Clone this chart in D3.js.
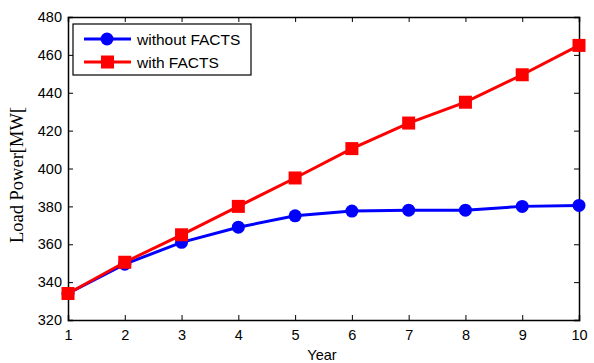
<!DOCTYPE html>
<html lang="en">
<head>
<meta charset="utf-8">
<title>Load Power</title>
<script src="https://cdnjs.cloudflare.com/ajax/libs/d3/7.8.5/d3.min.js"></script>
<style>
  body { margin: 0; background: #fff; }
  .tick text { font: 14.5px "Liberation Sans", Arial, sans-serif; fill: #000; }
</style>
</head>
<body>
<script>
var years = [1, 2, 3, 4, 5, 6, 7, 8, 9, 10];
var withoutFacts = [334, 349.5, 361, 369, 375, 377.5, 378, 378, 380, 380.5];
var withFacts = [334, 350.5, 365, 380, 395, 410.5, 424, 435, 449.5, 465];
var yTicks = [320, 340, 360, 380, 400, 420, 440, 460, 480];
var seriesNames = ["without FACTS", "with FACTS"];

var w = 594, h = 363;
var padL = 68, padR = 579, padT = 17, padB = 320;

var svg = d3.select("body").append("svg")
    .attr("width", w)
    .attr("height", h);

var x = d3.scaleLinear().domain([1, 10]).range([padL, padR]);
var y = d3.scaleLinear().domain([320, 480]).range([padB, padT]);

// axes, ticks pointing inward, mirrored on top/right
svg.append("g")
    .attr("transform", "translate(0," + padB + ")")
    .call(d3.axisBottom(x).tickValues(years).tickSize(-5).tickPadding(10).tickFormat(d3.format("d")));
svg.append("g")
    .attr("transform", "translate(0," + padT + ")")
    .call(d3.axisTop(x).tickValues(years).tickSize(-5).tickFormat(""));
svg.append("g")
    .attr("transform", "translate(" + padL + ",0)")
    .call(d3.axisLeft(y).tickValues(yTicks).tickSize(-5).tickPadding(6));
svg.append("g")
    .attr("transform", "translate(" + padR + ",0)")
    .call(d3.axisRight(y).tickValues(yTicks).tickSize(-5).tickFormat(""));

svg.selectAll(".domain").attr("stroke", "#000").attr("stroke-width", 1.5);
svg.selectAll(".tick line").attr("stroke", "#000");

var line = d3.line()
    .x(function(d, i){ return x(years[i]); })
    .y(function(d){ return y(d); });

// without FACTS (blue, circles)
svg.append("path")
    .datum(withoutFacts)
    .attr("d", line)
    .attr("fill", "none")
    .attr("stroke", "#0000ff")
    .attr("stroke-width", 3);
svg.selectAll(".circ")
    .data(withoutFacts)
    .enter().append("circle")
    .attr("class", "circ")
    .attr("cx", function(d, i){ return x(years[i]); })
    .attr("cy", function(d){ return y(d); })
    .attr("r", 6.5)
    .attr("fill", "#0000ff");

// with FACTS (red, squares)
svg.append("path")
    .datum(withFacts)
    .attr("d", line)
    .attr("fill", "none")
    .attr("stroke", "#ff0000")
    .attr("stroke-width", 3);
svg.selectAll(".sq")
    .data(withFacts)
    .enter().append("rect")
    .attr("class", "sq")
    .attr("x", function(d, i){ return x(years[i]) - 6.5; })
    .attr("y", function(d){ return y(d) - 6.5; })
    .attr("width", 13)
    .attr("height", 13)
    .attr("fill", "#ff0000");

// legend
var lg = svg.append("g");
lg.append("rect")
    .attr("x", 73).attr("y", 24)
    .attr("width", 178).attr("height", 51)
    .attr("fill", "#fff")
    .attr("stroke", "#000")
    .attr("stroke-width", 1.2);
var colors = ["#0000ff", "#ff0000"];
seriesNames.forEach(function(name, i){
    var ly = 39 + i * 23;
    lg.append("line")
        .attr("x1", 84).attr("x2", 131)
        .attr("y1", ly).attr("y2", ly)
        .attr("stroke", colors[i]).attr("stroke-width", 3);
    if (i == 0) {
        lg.append("circle").attr("cx", 107).attr("cy", ly).attr("r", 6.5).attr("fill", colors[i]);
    } else {
        lg.append("rect").attr("x", 101).attr("y", ly - 6.5).attr("width", 13).attr("height", 13).attr("fill", colors[i]);
    }
    lg.append("text")
        .attr("x", 137).attr("y", ly + 5.5)
        .style("font", "15.5px 'Liberation Sans', Arial, sans-serif")
        .text(name);
});

// axis labels
svg.append("text")
    .attr("x", 322).attr("y", 360)
    .attr("text-anchor", "middle")
    .style("font", "14.5px 'Liberation Sans', Arial, sans-serif")
    .text("Year");
svg.append("text")
    .attr("transform", "translate(23,175) rotate(-90)")
    .attr("text-anchor", "middle")
    .style("font", "18.5px 'Liberation Serif', 'Times New Roman', serif")
    .text("Load Power[MW[");
</script>
</body>
</html>
